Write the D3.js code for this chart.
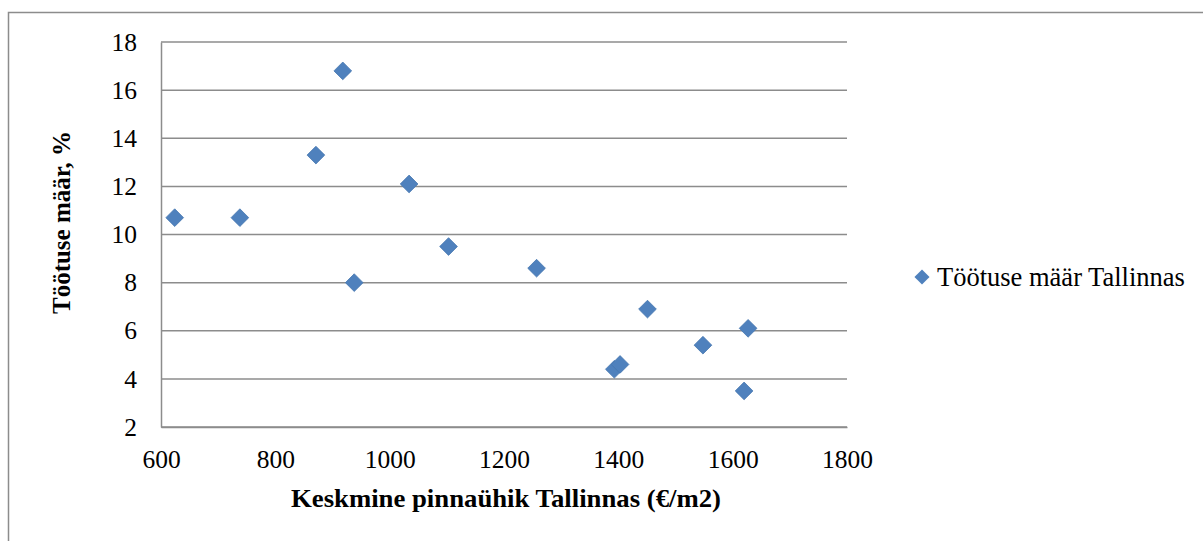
<!DOCTYPE html>
<html>
<head>
<meta charset="utf-8">
<script src="https://cdn.jsdelivr.net/npm/d3@7"></script>
<style>
  body { margin: 0; background: #fff; }
  text { font-family: 'Liberation Serif', 'Times New Roman', serif; fill: #000; }
</style>
</head>
<body>
<div id="chart"></div>
<script>
// Données
const hinnad = [624, 738, 871, 918, 938, 1034, 1103, 1257, 1393, 1403, 1451, 1548, 1620, 1627];
const tootus = [10.7, 10.7, 13.3, 16.8, 8.0, 12.1, 9.5, 8.6, 4.4, 4.6, 6.9, 5.4, 3.5, 6.1];
const xTicks = [600, 800, 1000, 1200, 1400, 1600, 1800];
const yTicks = [2, 4, 6, 8, 10, 12, 14, 16, 18];
const seriesName = "Töötuse määr Tallinnas";

const W = 1203, H = 541;
const margin = {top: 42, left: 161, right: 356, bottom: 114};
const width = W - margin.left - margin.right,
    height = H - margin.top - margin.bottom;
const serif = "'Liberation Serif', 'Times New Roman', serif";

const x = d3.scaleLinear().domain([600, 1800]).range([0, width]);
const y = d3.scaleLinear().domain([2, 18]).range([height, 0]);

const root = d3.select("#chart").append("svg")
    .attr("width", W)
    .attr("height", H);

// cadre extérieur
root.append("rect")
    .attr("x", 8.5).attr("y", 12.5)
    .attr("width", W + 10).attr("height", H + 10)
    .attr("fill", "none")
    .attr("stroke", "#8c8c8c")
    .attr("stroke-width", 1.5);

const svg = root.append("g")
    .attr("transform", "translate(" + margin.left + "," + margin.top + ")");

// grille horizontale
svg.selectAll("line.grid").data(yTicks).enter()
    .append("line")
    .attr("class", "grid")
    .attr("x1", 0).attr("x2", width)
    .attr("y1", d => y(d)).attr("y2", d => y(d))
    .attr("stroke", "#8c8c8c")
    .attr("stroke-width", 1.5);

// axe Y
const yAxis = svg.append("g")
    .attr("font-family", serif)
    .call(d3.axisLeft(y).tickValues(yTicks).tickFormat(d3.format("d")).tickSize(0).tickPadding(24));
yAxis.select(".domain").attr("stroke", "#8c8c8c").attr("stroke-width", 1.5);
yAxis.selectAll("text")
    .style("font-family", serif)
    .style("font-size", "25.5px")
    .attr("fill", "#000");

// axe X
const xAxis = svg.append("g")
    .attr("transform", "translate(0," + height + ")")
    .attr("font-family", serif)
    .call(d3.axisBottom(x).tickValues(xTicks).tickFormat(d3.format("d")).tickSize(0).tickPadding(23));
xAxis.select(".domain").attr("stroke", "#8c8c8c").attr("stroke-width", 1.5);
xAxis.selectAll("text")
    .style("font-family", serif)
    .style("font-size", "25.5px")
    .attr("fill", "#000");

// titres des axes
svg.append("text")
    .attr("x", width / 2 + 2)
    .attr("y", height + 80)
    .attr("text-anchor", "middle")
    .attr("textLength", 430)
    .attr("lengthAdjust", "spacingAndGlyphs")
    .style("font-size", "25px")
    .style("font-weight", "bold")
    .text("Keskmine pinnaühik Tallinnas (€/m2)");

svg.append("text")
    .attr("transform", "translate(" + (-91) + "," + (y(10) - 12) + ") rotate(-90)")
    .attr("text-anchor", "middle")
    .style("font-size", "25px")
    .style("font-weight", "bold")
    .text("Töötuse määr, %");

// points en losange
const diamond = d3.symbol().type(d3.symbolDiamond2).size(200);
svg.selectAll("path.pt").data(hinnad).enter()
    .append("path")
    .attr("class", "pt")
    .attr("transform", (d, i) => "translate(" + x(d) + "," + y(tootus[i]) + ")")
    .attr("d", diamond)
    .attr("fill", "#4F81BD")
    .attr("stroke", "#4677b0")
    .attr("stroke-width", 0.8);

// légende
const leg = root.append("g").attr("transform", "translate(922,277)");
leg.append("path")
    .attr("d", d3.symbol().type(d3.symbolDiamond2).size(145))
    .attr("fill", "#4F81BD");
leg.append("text")
    .attr("x", 15)
    .attr("y", 9)
    .style("font-size", "26.5px")
    .text(seriesName);
</script>
</body>
</html>
